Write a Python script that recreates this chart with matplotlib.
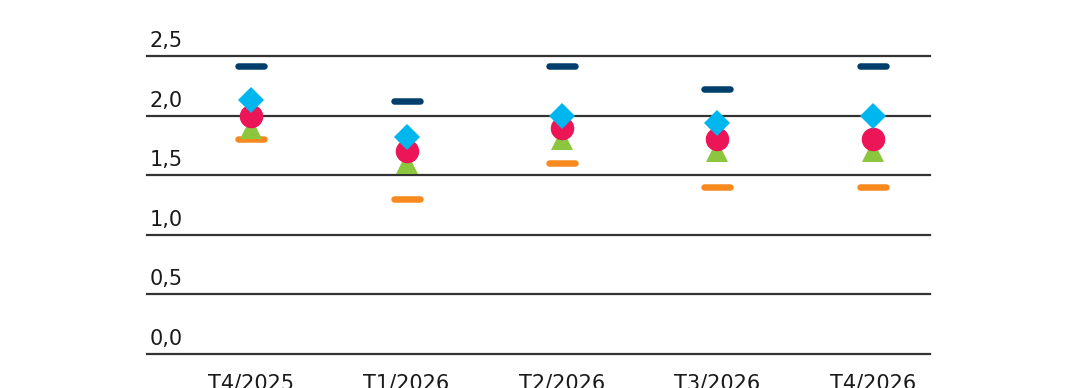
import matplotlib
matplotlib.use("Agg")
import matplotlib.pyplot as plt
from matplotlib.markers import MarkerStyle

plt.rcParams['font.family'] = ['DejaVu Sans']

quarters = ["T4/2025", "T1/2026", "T2/2026", "T3/2026", "T4/2026"]
high = [2.42, 2.12, 2.42, 2.22, 2.42]
low = [1.8, 1.3, 1.6, 1.4, 1.4]
tri = [1.9, 1.6, 1.8, 1.7, 1.7]
circ = [2.0, 1.7, 1.9, 1.8, 1.8]
diam = [2.13, 1.82, 2.0, 1.94, 2.0]
yticks = [0.0, 0.5, 1.0, 1.5, 2.0, 2.5]
ylabels = ["0,0", "0,5", "1,0", "1,5", "2,0", "2,5"]

fig = plt.figure(figsize=(10.8, 3.88), dpi=100)
ax = fig.add_axes([147 / 1080, 34 / 388, 783 / 1080, 298 / 388])

x = range(len(quarters))
dash = MarkerStyle('_', capstyle='round')
px = 72 / 100  # points per pixel

for t, lab in zip(yticks, ylabels):
    ax.axhline(t, color='#333333', lw=1.6, zorder=1, clip_on=False)
    ax.annotate(lab, xy=(0, t), xycoords=('axes fraction', 'data'),
                xytext=(2, 6.5), textcoords='offset points', fontsize=15,
                color='#1a1a1a', va='baseline', ha='left')

ax.plot(x, high, ls='none', marker=dash, ms=26 * px, mew=6.5 * px,
        color='#003e6b', zorder=3, clip_on=False)
ax.plot(x, low, ls='none', marker=dash, ms=26 * px, mew=6.5 * px,
        color='#f7891f', zorder=3, clip_on=False)
ax.plot(x, tri, ls='none', marker='^', ms=22 * px, mew=0,
        color='#8cc63f', zorder=4, clip_on=False)
ax.plot(x, circ, ls='none', marker='o', ms=23.5 * px, mew=0,
        color='#eb1558', zorder=5, clip_on=False)
ax.plot(x, diam, ls='none', marker='D', ms=18.5 * px, mew=0,
        color='#00b6ef', zorder=6, clip_on=False)

ax.set_xlim(-104 / 155.5, 4 + 57 / 155.5)
ax.set_ylim(0, 2.5)
ax.set_xticks(list(x))
ax.set_xticklabels(quarters, fontsize=15, color='#1a1a1a')
ax.set_yticks([])
ax.tick_params(axis='x', length=0, pad=14)
for s in ax.spines.values():
    s.set_visible(False)

fig.savefig("out.png", dpi=100)
